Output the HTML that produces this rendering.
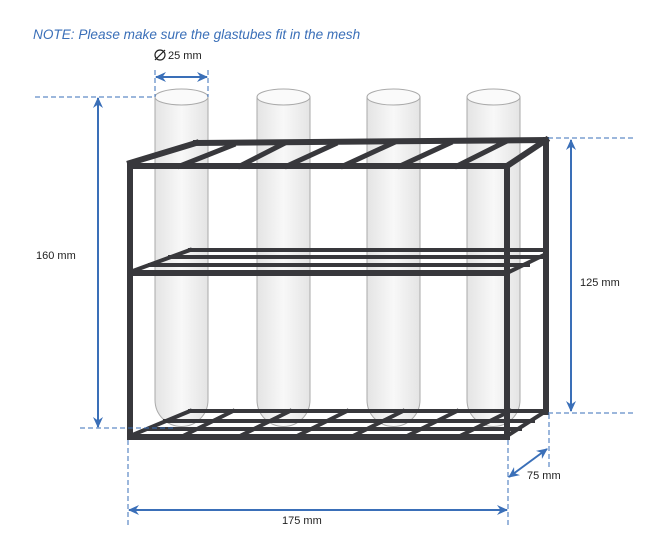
<!DOCTYPE html>
<html><head><style>
html,body{margin:0;padding:0;background:#fff;}
svg{display:block;}
text{font-family:"Liberation Sans",Arial,sans-serif;}
</style></head><body>
<svg width="661" height="554" viewBox="0 0 661 554" xmlns="http://www.w3.org/2000/svg">
<defs>
<linearGradient id="tg" x1="0" x2="1" y1="0" y2="0">
<stop offset="0" stop-color="#e4e4e4"/><stop offset="0.5" stop-color="#f8f8f8"/><stop offset="1" stop-color="#e4e4e4"/>
</linearGradient>
<marker id="ar" markerWidth="12" markerHeight="12" refX="10" refY="6" orient="auto-start-reverse" markerUnits="userSpaceOnUse">
<path d="M0,1 L11,6 L0,11 L3.5,6 Z" fill="#3a6fb8"/>
</marker>
</defs>
<text x="33" y="39" font-size="13.6" font-style="italic" fill="#3a6fb8">NOTE: Please make sure the glastubes fit in the mesh</text>

<g stroke="#aaa" stroke-width="1">
<path d="M155,97 V400 A26.5,26.5 0 0 0 208,400 V97" fill="url(#tg)"/>
<ellipse cx="181.5" cy="97" rx="26.5" ry="8" fill="#fafafa"/>
<path d="M257,97 V400 A26.5,26.5 0 0 0 310,400 V97" fill="url(#tg)"/>
<ellipse cx="283.5" cy="97" rx="26.5" ry="8" fill="#fafafa"/>
<path d="M367,97 V400 A26.5,26.5 0 0 0 420,400 V97" fill="url(#tg)"/>
<ellipse cx="393.5" cy="97" rx="26.5" ry="8" fill="#fafafa"/>
<path d="M467,97 V400 A26.5,26.5 0 0 0 520,400 V97" fill="url(#tg)"/>
<ellipse cx="493.5" cy="97" rx="26.5" ry="8" fill="#fafafa"/>
</g>

<g stroke="#38383c" fill="none" stroke-linecap="square" stroke-linejoin="miter">
<g stroke-width="6">
<line x1="130" y1="166" x2="130" y2="437"/>
<line x1="507" y1="166" x2="507" y2="437"/>
<line x1="546" y1="140" x2="546" y2="412"/>
<line x1="130" y1="166" x2="507" y2="166"/>
<line x1="130" y1="437" x2="507" y2="437"/>
<line x1="130" y1="163" x2="196" y2="143"/>
<line x1="196" y1="143" x2="546" y2="140"/>
<line x1="507" y1="166" x2="546" y2="140"/>
<line x1="130" y1="273" x2="507" y2="273"/>
</g>
<g stroke-width="5">
<line x1="180" y1="166" x2="233" y2="145"/>
<line x1="240" y1="166" x2="283" y2="144"/>
<line x1="287" y1="166" x2="335" y2="144"/>
<line x1="343" y1="166" x2="393" y2="143"/>
<line x1="400" y1="166" x2="450" y2="143"/>
<line x1="457" y1="166" x2="505" y2="142"/>
</g>
<g stroke-width="4">
<line x1="190" y1="250" x2="546" y2="250"/>
<line x1="170" y1="257" x2="546" y2="257"/>
<line x1="150" y1="265" x2="528" y2="265"/>
<line x1="130" y1="272" x2="190" y2="250"/>
<line x1="507" y1="273" x2="546" y2="254"/>
<line x1="190" y1="411" x2="546" y2="411"/>
<line x1="165" y1="421" x2="533" y2="421"/>
<line x1="148" y1="429" x2="520" y2="429"/>
<line x1="130" y1="436" x2="190" y2="411"/>
<line x1="507" y1="436" x2="546" y2="411"/>
<line x1="183" y1="436" x2="233" y2="411"/>
<line x1="240" y1="436" x2="290" y2="411"/>
<line x1="297" y1="436" x2="347" y2="411"/>
<line x1="353" y1="436" x2="403" y2="411"/>
<line x1="407" y1="436" x2="457" y2="411"/>
<line x1="460" y1="436" x2="510" y2="411"/>
</g>
</g>

<g stroke="#3a6fb8" stroke-width="1" stroke-dasharray="5,3" fill="none">
<line x1="35" y1="97" x2="155" y2="97"/>
<line x1="80" y1="428" x2="175" y2="428"/>
<line x1="155" y1="70" x2="155" y2="97"/>
<line x1="208" y1="70" x2="208" y2="97"/>
<line x1="548" y1="138" x2="636" y2="138"/>
<line x1="548" y1="413" x2="636" y2="413"/>
<line x1="128" y1="440" x2="128" y2="528"/>
<line x1="508" y1="440" x2="508" y2="528"/>
<line x1="549" y1="414" x2="549" y2="470"/>
</g>
<g stroke="#3a6fb8" stroke-width="2" fill="none">
<line x1="98" y1="98" x2="98" y2="427" marker-start="url(#ar)" marker-end="url(#ar)"/>
<line x1="156" y1="77" x2="207" y2="77" marker-start="url(#ar)" marker-end="url(#ar)"/>
<line x1="571" y1="140" x2="571" y2="411" marker-start="url(#ar)" marker-end="url(#ar)"/>
<line x1="129" y1="510" x2="507" y2="510" marker-start="url(#ar)" marker-end="url(#ar)"/>
<line x1="509" y1="477" x2="547" y2="449" marker-start="url(#ar)" marker-end="url(#ar)"/>
</g>
<g font-size="11" fill="#222">
<text x="36" y="259">160 mm</text>
<text x="580" y="286">125 mm</text>
<text x="282" y="524">175 mm</text>
<text x="527" y="479">75 mm</text>
<text x="168" y="59">25 mm</text>
</g>
<circle cx="160" cy="55" r="5" fill="none" stroke="#222" stroke-width="1.2"/>
<line x1="155" y1="60" x2="165" y2="50" stroke="#222" stroke-width="1.2"/>
</svg>
</body></html>
